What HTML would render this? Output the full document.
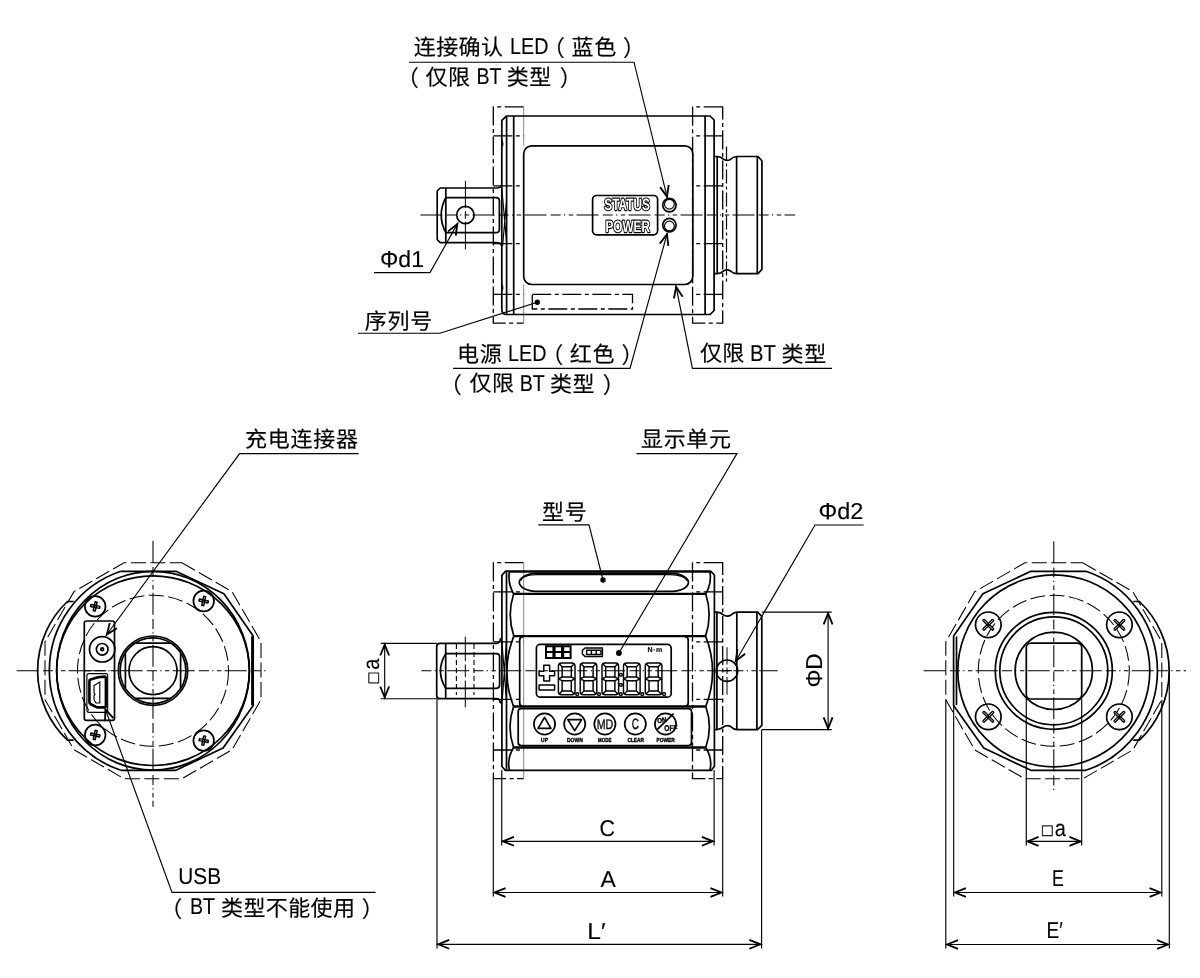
<!DOCTYPE html>
<html lang="zh-CN">
<head>
<meta charset="utf-8">
<title>外形尺寸图</title>
<style>
html,body{margin:0;padding:0;background:#fff}
body{width:1200px;height:978px;overflow:hidden}
svg{display:block;will-change:transform;text-rendering:geometricPrecision}
.m{fill:none;stroke:#000;stroke-width:1.7;stroke-linejoin:round;stroke-linecap:butt}
.t{fill:none;stroke:#000;stroke-width:1.15}
.a{fill:none;stroke:#000;stroke-width:1.85;stroke-linejoin:miter}
.k{fill:none;stroke:#000;stroke-width:2.3;stroke-linejoin:round}
.f{fill:#000;stroke:none}
.k2{fill:none;stroke:#000;stroke-width:2.6;stroke-linejoin:round}
.cl{fill:none;stroke:#000;stroke-width:1.05;stroke-dasharray:22 4.2 10 3.3 1.3 3.4 4.5 3.3}
.cs{fill:none;stroke:#000;stroke-width:1.0}
.ph{fill:none;stroke:#000;stroke-width:1.3;stroke-dasharray:19 3.5 4 3.5}
.pl{fill:none;stroke:#888;stroke-width:1.0}
.ph2{fill:none;stroke:#000;stroke-width:1.2;stroke-dasharray:14 3 3 3}
.hd{fill:none;stroke:#000;stroke-width:1.1;stroke-dasharray:5 3}
.dd{fill:none;stroke:#000;stroke-width:1.05;stroke-dasharray:15 4.5}
.s7{fill:none;stroke:#000;stroke-width:1.45;stroke-linejoin:round}
.s8{fill:none;stroke:#000;stroke-width:2.0}
.xk{fill:none;stroke:#000;stroke-width:3.3;stroke-linecap:round}
.xw{fill:none;stroke:#fff;stroke-width:0.8;stroke-linecap:round}
text{font-family:"Liberation Sans","Noto Sans CJK SC",sans-serif;fill:#000}
.tx{font-family:"Liberation Sans","Noto Sans CJK SC",sans-serif;font-size:22px;font-weight:400;stroke:#000;stroke-width:0.16px}
.la{font-family:"Liberation Sans","Noto Sans CJK SC",sans-serif;font-size:23px;font-weight:400;stroke:#000;stroke-width:0.12px}
.sq{font-family:"Liberation Sans","Noto Sans CJK SC",sans-serif;font-size:17.6px;stroke:#000;stroke-width:0.3px}
.ol{font-family:"Liberation Sans",sans-serif;font-weight:700;font-size:16.4px;fill:#fff;stroke:#000;stroke-width:2.3;stroke-linejoin:round;paint-order:stroke}
.btn{font-family:"Liberation Sans",sans-serif;font-size:14px;fill:#000;stroke:#000;stroke-width:0.3px}
.tiny{font-family:"Liberation Sans",sans-serif;font-weight:700;fill:#000;stroke:#000;stroke-width:0.35px}
</style>
</head>
<body>
<svg width="1200" height="978" viewBox="0 0 1200 978">
<rect x="0" y="0" width="1200" height="978" fill="#fff"/>
<g id="top-view">
<path class="ph" d="M523.7,106.9 H493.3 V323.1 H523.7" />
<line class="pl" x1="523.70" y1="106.90" x2="523.70" y2="145.80"/>
<line class="pl" x1="523.70" y1="284.50" x2="523.70" y2="323.10"/>
<path class="ph" d="M722.7,106.9 H692.6 V323.1 H722.7 Z" />
<line class="ph" x1="493.30" y1="135.80" x2="523.70" y2="135.80"/>
<line class="ph" x1="493.30" y1="185.90" x2="523.70" y2="185.90"/>
<line class="ph" x1="493.30" y1="243.70" x2="523.70" y2="243.70"/>
<line class="ph" x1="493.30" y1="294.40" x2="523.70" y2="294.40"/>
<line class="ph" x1="722.70" y1="135.80" x2="692.60" y2="135.80"/>
<line class="ph" x1="722.70" y1="185.90" x2="692.60" y2="185.90"/>
<line class="ph" x1="722.70" y1="243.70" x2="692.60" y2="243.70"/>
<line class="ph" x1="722.70" y1="294.40" x2="692.60" y2="294.40"/>
<line class="cl" x1="420.5" y1="215.0" x2="795.2" y2="215.0"/>
<path class="m" d="M506.6,116 H710.1 L714.1,120 V310.5 L710.1,314.5 H506.6 Q501.8,314.5 501.8,309.5 V120.3 Z" />
<line class="m" x1="506.60" y1="116.00" x2="506.60" y2="314.50"/>
<line class="m" x1="513.70" y1="116.00" x2="513.70" y2="314.50"/>
<line class="m" x1="705.10" y1="116.00" x2="705.10" y2="314.50"/>
<path class="f" d="M502.2,139 Q504.6,143.5 502.2,148 Z" />
<path class="f" d="M502.2,283 Q504.6,287.5 502.2,292 Z" />
<rect class="m" x="523.70" y="145.80" width="169.10" height="138.70" rx="8" ry="8" />
<rect class="m" x="592.60" y="195.50" width="65.00" height="39.30" rx="4" ry="4" />
<text class="ol" x="604.3" y="210.4" textLength="45.6" lengthAdjust="spacingAndGlyphs">STATUS</text>
<text class="ol" x="605.4" y="231.8" textLength="44.5" lengthAdjust="spacingAndGlyphs">POWER</text>
<circle class="m" cx="669.40" cy="205.10" r="6.70" />
<circle class="t" cx="669.40" cy="204.20" r="4.90" />
<circle class="m" cx="669.40" cy="225.10" r="6.70" />
<circle class="t" cx="669.40" cy="226.00" r="4.90" />
<path class="ph" d="M532.3,294.4 H632.5 V309 H532.3 Z" />
<path class="m" d="M501.8,184.6 Q501.2,188 496.5,188 H440.3 L437.2,191 V239.6 L440.3,242.6 H496.5 Q501.2,242.6 501.8,246" />
<line class="m" x1="445.80" y1="188.00" x2="445.80" y2="242.60"/>
<path class="m" d="M445.8,197.6 H496 Q499.4,197.6 499.4,201 V229.2 Q499.4,232.6 496,232.6 H445.8" />
<path class="m" d="M445.8,197.6 Q436.6,215 445.8,232.6" />
<path class="t" d="M501.8,188 L506.6,242.6 M506.6,200 L502.6,246" />
<circle class="m" cx="465.40" cy="215.00" r="8.70" />
<path class="cs" d="M465.4,181 V208.2 M465.4,211.2 V218.8 M465.4,221.8 V249.4" />
<path class="m" d="M714.1,156.5 H717.2 Q721,156.8 723,158.8 Q726.5,161.6 730.5,159.4 Q733,156.8 736.6,156.5 H758 L761.9,160.8 V269.4 L758,273.7 H736.6 Q733,273.4 730.5,271 Q726.5,268.6 723,271.4 Q721,273.4 717.2,273.7 H714.1" />
<line class="m" x1="717.20" y1="156.50" x2="717.20" y2="273.70"/>
<line class="m" x1="736.60" y1="156.50" x2="736.60" y2="273.70"/>
<line class="m" x1="757.30" y1="157.00" x2="757.30" y2="273.20"/>
<line class="ph2" x1="726.50" y1="146.50" x2="726.50" y2="284.00"/>
</g>
<path class="t" d="M409.00,62.20 L634.00,62.20 L667.30,197.90" />
<path class="a" d="M660.07,187.10 L666.99,196.64 L668.71,184.98" />
<path class="t" d="M453.00,368.30 L630.00,368.30 L667.30,233.00" />
<path class="a" d="M668.34,245.96 L666.95,234.25 L659.77,243.59" />
<path class="t" d="M832.00,368.30 L692.40,368.30 L675.90,285.60" />
<path class="a" d="M682.65,296.71 L676.15,286.87 L673.93,298.45" />
<path class="t" d="M374.00,272.60 L430.00,272.60 L457.90,222.90" />
<path class="a" d="M455.80,235.73 L457.26,224.03 L448.04,231.38" />
<path class="t" d="M358.00,333.20 L440.00,333.20 L537.30,302.30" />
<circle class="f" cx="537.30" cy="302.30" r="2.70" />
<g id="front-view">
<path class="ph" d="M523.7,562.7 H493.4 V778.7 H523.7" />
<line class="pl" x1="523.70" y1="562.70" x2="523.70" y2="778.70"/>
<path class="ph" d="M722.7,562.7 H692.5 V778.7 H722.7 Z" />
<line class="ph" x1="493.40" y1="591.80" x2="523.70" y2="591.80"/>
<line class="ph" x1="493.40" y1="641.80" x2="523.70" y2="641.80"/>
<line class="ph" x1="493.40" y1="699.40" x2="523.70" y2="699.40"/>
<line class="ph" x1="493.40" y1="750.00" x2="523.70" y2="750.00"/>
<line class="ph" x1="722.70" y1="591.80" x2="692.50" y2="591.80"/>
<line class="ph" x1="722.70" y1="641.80" x2="692.50" y2="641.80"/>
<line class="ph" x1="722.70" y1="699.40" x2="692.50" y2="699.40"/>
<line class="ph" x1="722.70" y1="750.00" x2="692.50" y2="750.00"/>
<line class="cl" x1="421.3" y1="670.7" x2="777.7" y2="670.7" stroke-dashoffset="26.1"/>
<path class="m" d="M505.4,571.2 H710.6 L714.4,575 V766.2 L711.2,770.4 H505.4 L501.9,766.5 V575.4 Z" />
<line class="m" x1="506.50" y1="571.20" x2="506.50" y2="770.40"/>
<path class="m" d="M509.50,571.2 Q507.40,583 513.60,593.9" />
<path class="m" d="M513.60,593.9 Q506.80,615 513.80,636.1" />
<path class="m" d="M513.80,636.1 Q500.00,671 513.60,706.5" />
<path class="m" d="M513.60,706.5 Q506.40,727 513.60,747.5" />
<path class="m" d="M513.60,747.5 Q506.60,759 509.50,770.4" />
<path class="m" d="M709.90,571.2 Q712.00,583 705.80,593.9" />
<path class="m" d="M705.80,593.9 Q712.60,615 705.60,636.1" />
<path class="m" d="M705.60,636.1 Q719.40,671 705.80,706.5" />
<path class="m" d="M705.80,706.5 Q713.00,727 705.80,747.5" />
<path class="m" d="M705.80,747.5 Q712.80,759 709.90,770.4" />
<path class="t" d="M501.9,641 L506.5,701 M506.5,641 L502.2,701" />
<line class="k" x1="513.60" y1="593.90" x2="705.80" y2="593.90"/>
<line class="k" x1="513.80" y1="636.10" x2="705.80" y2="636.10"/>
<line class="k" x1="513.60" y1="706.50" x2="705.80" y2="706.50"/>
<line class="k" x1="513.60" y1="747.50" x2="705.80" y2="747.50"/>
<line class="m" x1="509.50" y1="572.00" x2="709.90" y2="572.00"/>
<path class="m" d="M536,573.4 H672 C683,574 688.4,578.5 688.4,582.3 C688.4,586.5 683,591 672,591.3 H536 C525,591 519.3,586.5 519.3,582.3 C519.3,578.5 525,574 536,573.4 Z" />
<path class="t" d="M520.6,581 C522,576.5 528,574.6 538,574.6 H670 C680,574.8 685.5,577 687.2,581" />
<path class="m" d="M519.7,703 V640 Q519.7,637 523,636.6 M688.2,703 V640 Q688.2,637 685,636.6 M519.7,703 Q519.7,706 523,706.2 M688.2,703 Q688.2,706 685,706.2" />
<rect class="m" x="536.40" y="644.40" width="134.80" height="52.70" rx="3.7" ry="3.7" />
<path class="s7" d="M561.40,663.00 H572.00 Q575.00,663.00 575.00,666.00 V691.70 Q575.00,694.70 572.00,694.70 H561.40 Q558.40,694.70 558.40,691.70 V666.00 Q558.40,663.00 561.40,663.00 Z" />
<path class="s7" d="M562.10,666.70 H571.30 V677.00 H562.10 Z" />
<path class="s7" d="M562.10,680.70 H571.30 V691.00 H562.10 Z" />
<path class="s7" d="M559.20,663.80 L562.10,666.70 M574.20,663.80 L571.30,666.70 M559.20,693.90 L562.10,691.00 M574.20,693.90 L571.30,691.00 M558.40,678.85 L562.10,677.00 M558.40,678.85 L562.10,680.70 M575.00,678.85 L571.30,677.00 M575.00,678.85 L571.30,680.70" />
<circle class="s7" cx="577.20" cy="694.20" r="1.40" />
<path class="s7" d="M583.20,663.00 H593.80 Q596.80,663.00 596.80,666.00 V691.70 Q596.80,694.70 593.80,694.70 H583.20 Q580.20,694.70 580.20,691.70 V666.00 Q580.20,663.00 583.20,663.00 Z" />
<path class="s7" d="M583.90,666.70 H593.10 V677.00 H583.90 Z" />
<path class="s7" d="M583.90,680.70 H593.10 V691.00 H583.90 Z" />
<path class="s7" d="M581.00,663.80 L583.90,666.70 M596.00,663.80 L593.10,666.70 M581.00,693.90 L583.90,691.00 M596.00,693.90 L593.10,691.00 M580.20,678.85 L583.90,677.00 M580.20,678.85 L583.90,680.70 M596.80,678.85 L593.10,677.00 M596.80,678.85 L593.10,680.70" />
<circle class="s7" cx="599.00" cy="694.20" r="1.40" />
<path class="s7" d="M605.00,663.00 H615.60 Q618.60,663.00 618.60,666.00 V691.70 Q618.60,694.70 615.60,694.70 H605.00 Q602.00,694.70 602.00,691.70 V666.00 Q602.00,663.00 605.00,663.00 Z" />
<path class="s7" d="M605.70,666.70 H614.90 V677.00 H605.70 Z" />
<path class="s7" d="M605.70,680.70 H614.90 V691.00 H605.70 Z" />
<path class="s7" d="M602.80,663.80 L605.70,666.70 M617.80,663.80 L614.90,666.70 M602.80,693.90 L605.70,691.00 M617.80,693.90 L614.90,691.00 M602.00,678.85 L605.70,677.00 M602.00,678.85 L605.70,680.70 M618.60,678.85 L614.90,677.00 M618.60,678.85 L614.90,680.70" />
<circle class="s7" cx="620.80" cy="694.20" r="1.40" />
<path class="s7" d="M626.50,663.00 H637.10 Q640.10,663.00 640.10,666.00 V691.70 Q640.10,694.70 637.10,694.70 H626.50 Q623.50,694.70 623.50,691.70 V666.00 Q623.50,663.00 626.50,663.00 Z" />
<path class="s7" d="M627.20,666.70 H636.40 V677.00 H627.20 Z" />
<path class="s7" d="M627.20,680.70 H636.40 V691.00 H627.20 Z" />
<path class="s7" d="M624.30,663.80 L627.20,666.70 M639.30,663.80 L636.40,666.70 M624.30,693.90 L627.20,691.00 M639.30,693.90 L636.40,691.00 M623.50,678.85 L627.20,677.00 M623.50,678.85 L627.20,680.70 M640.10,678.85 L636.40,677.00 M640.10,678.85 L636.40,680.70" />
<circle class="s7" cx="642.30" cy="694.20" r="1.40" />
<path class="s7" d="M648.30,663.00 H658.90 Q661.90,663.00 661.90,666.00 V691.70 Q661.90,694.70 658.90,694.70 H648.30 Q645.30,694.70 645.30,691.70 V666.00 Q645.30,663.00 648.30,663.00 Z" />
<path class="s7" d="M649.00,666.70 H658.20 V677.00 H649.00 Z" />
<path class="s7" d="M649.00,680.70 H658.20 V691.00 H649.00 Z" />
<path class="s7" d="M646.10,663.80 L649.00,666.70 M661.10,663.80 L658.20,666.70 M646.10,693.90 L649.00,691.00 M661.10,693.90 L658.20,691.00 M645.30,678.85 L649.00,677.00 M645.30,678.85 L649.00,680.70 M661.90,678.85 L658.20,677.00 M661.90,678.85 L658.20,680.70" />
<circle class="s7" cx="664.10" cy="694.20" r="1.40" />
<circle class="s7" cx="620.90" cy="674.80" r="1.40" />
<circle class="s7" cx="620.90" cy="684.90" r="1.40" />
<path class="s7" d="M543.8,665.3 H549.6 V671.2 H554.6 V675.8 H549.6 V680.9 H543.8 V675.8 H539.1 V671.2 H543.8 Z" />
<path class="s7" d="M539.1,684.9 H554.6 V690 H539.1 Z" />
<path class="s8" d="M546.00,646.2 h7.4 v11.8 h-7.4 Z M546.00,652.1 h7.4" />
<path class="s8" d="M554.60,646.2 h7.4 v11.8 h-7.4 Z M554.60,652.1 h7.4" />
<path class="s8" d="M563.20,646.2 h7.4 v11.8 h-7.4 Z M563.20,652.1 h7.4" />
<path class="s7" d="M585,648 H602.4 V656.4 H585 L582.4,654 V650.4 Z" />
<path class="s7" d="M586.6,650.2 H601 V654.4 H586.6 Z M591.4,650.2 V654.4 M596.2,650.2 V654.4" />
<text class="tiny" x="647.6" y="652.4" style="font-size:7px;letter-spacing:0.5px;stroke-width:0.15px">N·m</text>
<rect class="m" x="518.20" y="708.60" width="173.30" height="37.00" rx="3" ry="3" />
<circle class="m" cx="544.50" cy="724.00" r="10.60" />
<circle class="m" cx="574.70" cy="724.00" r="10.60" />
<circle class="m" cx="604.90" cy="724.00" r="10.60" />
<circle class="m" cx="635.30" cy="724.00" r="10.60" />
<circle class="m" cx="665.50" cy="724.00" r="10.60" />
<path class="m" d="M544.5,717.4 L550.9,728.4 H538.1 Z" />
<path class="m" d="M574.7,730.6 L581.6,719.6 H567.8 Z" />
<text class="btn" x="604.9" y="729.1" text-anchor="middle" textLength="16.5" lengthAdjust="spacingAndGlyphs">MD</text>
<text class="btn" x="635.3" y="729.3" text-anchor="middle" style="font-size:15px" textLength="7.2" lengthAdjust="spacingAndGlyphs">C</text>
<line class="m" x1="657.10" y1="729.60" x2="673.60" y2="713.60"/>
<text class="tiny" x="657.0" y="722.6" style="font-size:7px" textLength="9.5" lengthAdjust="spacingAndGlyphs" transform="rotate(-8 661 720)">ON</text>
<text class="tiny" x="664.3" y="730.6" style="font-size:8.5px" textLength="13.2" lengthAdjust="spacingAndGlyphs">OFF</text>
<text class="tiny" x="544.5" y="741.6" text-anchor="middle" style="font-size:5.8px" textLength="6.8" lengthAdjust="spacingAndGlyphs">UP</text>
<text class="tiny" x="574.9" y="741.6" text-anchor="middle" style="font-size:5.8px" textLength="15.8" lengthAdjust="spacingAndGlyphs">DOWN</text>
<text class="tiny" x="604.8" y="741.6" text-anchor="middle" style="font-size:5.8px" textLength="13.4" lengthAdjust="spacingAndGlyphs">MODE</text>
<text class="tiny" x="635.7" y="741.6" text-anchor="middle" style="font-size:5.8px" textLength="16.5" lengthAdjust="spacingAndGlyphs">CLEAR</text>
<text class="tiny" x="665.6" y="741.6" text-anchor="middle" style="font-size:5.8px" textLength="18.4" lengthAdjust="spacingAndGlyphs">POWER</text>
<path class="m" d="M501.9,638.8 H500.3 Q500,643.3 496.5,643.3 H440 Q436.7,643.3 436.7,646.6 V695.4 Q436.7,698.7 440,698.7 H496.5 Q500,698.7 500.3,702.6 H501.9" />
<line class="m" x1="445.70" y1="643.30" x2="445.70" y2="698.70"/>
<path class="m" d="M445.7,653.6 H496.4 Q499.6,653.6 499.6,656.8 V685.1 Q499.6,688.3 496.4,688.3 H445.7" />
<path class="m" d="M445.7,653.6 Q435.2,671 445.7,688.3" />
<line class="hd" x1="456.40" y1="644.00" x2="456.40" y2="695.00"/>
<line class="hd" x1="474.00" y1="644.00" x2="474.00" y2="695.00"/>
<path class="cs" d="M465.3,636.7 V661 M465.3,664.5 V677 M465.3,680.5 V707.3" />
<path class="m" d="M714.4,612.1 H716.9 Q720.8,612.4 723,614.6 Q727,617.6 731,615 Q733.4,612.4 736.8,612.1 H757.6 L761.8,616.4 V725.3 L757.6,729.6 H736.8 Q733.4,729.3 731,726.8 Q727,724.2 723,727.2 Q720.8,729.3 716.9,729.6 H714.4" />
<line class="m" x1="716.90" y1="612.10" x2="716.90" y2="729.60"/>
<line class="m" x1="736.80" y1="612.10" x2="736.80" y2="729.60"/>
<line class="m" x1="756.90" y1="612.60" x2="756.90" y2="729.10"/>
<circle class="m" cx="727" cy="670.7" r="10.7" fill="#fff"/>
<line class="t" x1="722.50" y1="670.70" x2="732.00" y2="670.70"/>
<path class="cs" d="M727,647.3 V664.5 M727,667.5 V674 M727,677 V694.7" />
</g>
<line class="t" x1="380.70" y1="643.30" x2="436.70" y2="643.30"/>
<line class="t" x1="380.70" y1="698.70" x2="436.70" y2="698.70"/>
<line class="t" x1="384.70" y1="643.30" x2="384.70" y2="698.70"/>
<path class="a" d="M389.15,655.52 L384.70,644.60 L380.25,655.52" />
<path class="a" d="M380.25,686.48 L384.70,697.40 L389.15,686.48" />
<line class="t" x1="762.00" y1="612.10" x2="831.70" y2="612.10"/>
<line class="t" x1="762.00" y1="729.60" x2="831.70" y2="729.60"/>
<line class="t" x1="828.10" y1="612.10" x2="828.10" y2="729.60"/>
<path class="a" d="M832.55,624.32 L828.10,613.40 L823.65,624.32" />
<path class="a" d="M823.65,717.38 L828.10,728.30 L832.55,717.38" />
<line class="t" x1="501.75" y1="770.00" x2="501.75" y2="845.50"/>
<line class="t" x1="714.10" y1="770.00" x2="714.10" y2="845.50"/>
<line class="t" x1="501.75" y1="841.30" x2="714.10" y2="841.30"/>
<path class="a" d="M513.97,836.85 L503.05,841.30 L513.97,845.75" />
<path class="a" d="M701.88,845.75 L712.80,841.30 L701.88,836.85" />
<line class="t" x1="493.30" y1="778.70" x2="493.30" y2="896.50"/>
<line class="t" x1="722.70" y1="778.70" x2="722.70" y2="896.50"/>
<line class="t" x1="493.30" y1="892.50" x2="722.70" y2="892.50"/>
<path class="a" d="M505.52,888.05 L494.60,892.50 L505.52,896.95" />
<path class="a" d="M710.48,896.95 L721.40,892.50 L710.48,888.05" />
<line class="t" x1="437.00" y1="698.70" x2="437.00" y2="948.50"/>
<line class="t" x1="761.60" y1="729.60" x2="761.60" y2="948.50"/>
<line class="t" x1="437.00" y1="944.30" x2="761.60" y2="944.30"/>
<path class="a" d="M449.22,939.85 L438.30,944.30 L449.22,948.75" />
<path class="a" d="M749.38,948.75 L760.30,944.30 L749.38,939.85" />
<path class="t" d="M636.40,453.60 L737.00,453.60 L618.90,653.00" />
<circle class="f" cx="618.90" cy="653.00" r="2.90" />
<path class="t" d="M538.40,524.80 L589.00,524.80 L603.00,580.00" />
<circle class="f" cx="603.00" cy="580.00" r="2.70" />
<path class="t" d="M863.70,525.00 L815.00,525.00 L735.20,662.00" />
<path class="a" d="M737.51,649.21 L735.85,660.88 L745.19,653.68" />
<g id="left-view">
<path class="dd" d="M181.94,562.70 L232.06,591.64 L261.00,641.76 L261.00,699.64 L232.06,749.76 L181.94,778.70 L124.06,778.70 L73.94,749.76 L45.00,699.64 L45.00,641.76 L73.94,591.64 L124.06,562.70 Z" />
<path class="m" d="M120.80,571.30 L175.90,571.30 L223.90,593.70 L253.20,635.90 L253.20,705.60 L223.10,748.00 L175.90,770.30 L120.80,770.30" />
<path class="m" d="M120.80,571.3 A105,105 0 0 0 120.80,770.3" />
<path class="m" d="M73.60,601.5 H67.40 A95.5,95.5 0 0 0 67.40,740.1 H73.60" />
<ellipse class="m" cx="153.0" cy="670.7" rx="96.4" ry="99.4"/>
<ellipse class="m" cx="153.0" cy="670.7" rx="96.3" ry="94.8"/>
<line class="k2" x1="252.40" y1="636.20" x2="252.40" y2="705.20"/>
<circle class="dd" cx="153.00" cy="670.70" r="75.50" />
<line class="cl" x1="153.00" y1="540.70" x2="153.00" y2="806.70"/>
<line class="cl" x1="16.70" y1="670.70" x2="268.00" y2="670.70"/>
<circle class="m" cx="95.20" cy="606.40" r="10.30" fill="#fff"/>
<path class="s7" d="M94.20,601.80 h2.0 v3.5999999999999996 h3.5999999999999996 v2.0 h-3.5999999999999996 v3.5999999999999996 h-2.0 v-3.5999999999999996 h-3.5999999999999996 v-2.0 h3.5999999999999996 Z" transform="rotate(12 95.2 606.4)"/>
<circle class="s7" cx="95.20" cy="606.40" r="1.10" />
<circle class="m" cx="203.70" cy="601.00" r="10.30" fill="#fff"/>
<path class="s7" d="M202.70,596.40 h2.0 v3.5999999999999996 h3.5999999999999996 v2.0 h-3.5999999999999996 v3.5999999999999996 h-2.0 v-3.5999999999999996 h-3.5999999999999996 v-2.0 h3.5999999999999996 Z" transform="rotate(12 203.7 601.0)"/>
<circle class="s7" cx="203.70" cy="601.00" r="1.10" />
<circle class="m" cx="95.20" cy="735.00" r="10.30" fill="#fff"/>
<path class="s7" d="M94.20,730.40 h2.0 v3.5999999999999996 h3.5999999999999996 v2.0 h-3.5999999999999996 v3.5999999999999996 h-2.0 v-3.5999999999999996 h-3.5999999999999996 v-2.0 h3.5999999999999996 Z" transform="rotate(12 95.2 735.0)"/>
<circle class="s7" cx="95.20" cy="735.00" r="1.10" />
<circle class="m" cx="203.70" cy="740.60" r="10.30" fill="#fff"/>
<path class="s7" d="M202.70,736.00 h2.0 v3.5999999999999996 h3.5999999999999996 v2.0 h-3.5999999999999996 v3.5999999999999996 h-2.0 v-3.5999999999999996 h-3.5999999999999996 v-2.0 h3.5999999999999996 Z" transform="rotate(12 203.7 740.6)"/>
<circle class="s7" cx="203.70" cy="740.60" r="1.10" />
<rect class="m" x="84.3" y="621" width="30.2" height="99.4" rx="2.2" fill="#fff"/>
<line class="cl" x1="84.30" y1="670.70" x2="114.50" y2="670.70"/>
<circle class="m" cx="102.20" cy="649.30" r="12.70" />
<circle class="m" cx="102.20" cy="649.30" r="5.80" />
<circle class="m" cx="102.20" cy="649.30" r="1.40" />
<rect class="t" x="86.90" y="673.60" width="20.80" height="38.70" rx="2" ry="2" />
<path class="k2" d="M90.6,679.6 L98,677.2 L104.4,676.6 Q105.9,676.8 105.9,678.6 V705.4 Q105.9,707.3 104.2,707.4 L97,707.4 L90.4,704 Q89.4,703.4 89.4,702 V681.2 Q89.4,680 90.6,679.6 Z" />
<path class="t" d="M94,685.6 L99.8,682 V703 L96,703 L94,699.6 V696 L95,694.4 L94,692.8 Z" />
<circle class="m" cx="153.00" cy="670.70" r="34.70" />
<circle class="m" cx="153.00" cy="670.70" r="32.90" />
<circle class="m" cx="153.00" cy="670.70" r="24.00" />
<path class="m" d="M135.09,643.10 H170.91 M135.09,698.30 H170.91 M125.40,652.79 V688.61 M180.60,652.79 V688.61" />
</g>
<path class="t" d="M358.60,453.60 L239.60,453.60 L106.10,635.50" />
<path class="a" d="M109.74,623.02 L106.87,634.45 L116.91,628.28" />
<path class="t" d="M375.60,892.40 L172.00,892.40 L105.00,708.20" />
<path class="a" d="M113.35,718.16 L105.44,709.42 L105.00,721.20" />
<g id="right-view">
<path class="dd" d="M1082.74,562.80 L1132.86,591.74 L1161.80,641.86 L1161.80,699.74 L1132.86,749.86 L1082.74,778.80 L1024.86,778.80 L974.74,749.86 L945.80,699.74 L945.80,641.86 L974.74,591.74 L1024.86,562.80 Z" />
<path class="m" d="M1086.00,571.30 L1030.90,571.30 L982.90,593.70 L953.60,635.90 L953.60,705.60 L983.70,748.00 L1030.90,770.30 L1086.00,770.30" />
<line class="m" x1="956.50" y1="636.50" x2="956.50" y2="705.00"/>
<path class="m" d="M1086.00,571.3 A105,105 0 0 1 1086.00,770.3" />
<path class="m" d="M1133.20,601.5 H1139.40 A95.5,95.5 0 0 1 1139.40,740.1 H1133.20" />
<circle class="m" cx="1053.80" cy="670.80" r="96.00" />
<circle class="dd" cx="1053.80" cy="670.80" r="75.50" />
<line class="cl" x1="1053.80" y1="541.20" x2="1053.80" y2="793.00"/>
<line class="cl" x1="923.70" y1="670.80" x2="1186.00" y2="670.80"/>
<circle class="m" cx="988.30" cy="624.80" r="12.80" fill="#fff"/>
<path class="xk" d="M983.92,620.42 L992.68,629.18 M983.92,629.18 L992.68,620.42 " />
<path class="xw" d="M983.92,620.42 L992.68,629.18 M983.92,629.18 L992.68,620.42 " />
<circle class="f" cx="988.30" cy="624.80" r="1.60" />
<circle class="m" cx="1119.40" cy="624.80" r="12.80" fill="#fff"/>
<path class="xk" d="M1115.02,620.42 L1123.78,629.18 M1115.02,629.18 L1123.78,620.42 " />
<path class="xw" d="M1115.02,620.42 L1123.78,629.18 M1115.02,629.18 L1123.78,620.42 " />
<circle class="f" cx="1119.40" cy="624.80" r="1.60" />
<circle class="m" cx="988.30" cy="716.80" r="12.80" fill="#fff"/>
<path class="xk" d="M983.92,712.42 L992.68,721.18 M983.92,721.18 L992.68,712.42 " />
<path class="xw" d="M983.92,712.42 L992.68,721.18 M983.92,721.18 L992.68,712.42 " />
<circle class="f" cx="988.30" cy="716.80" r="1.60" />
<circle class="m" cx="1119.40" cy="716.80" r="12.80" fill="#fff"/>
<path class="xk" d="M1115.02,712.42 L1123.78,721.18 M1115.02,721.18 L1123.78,712.42 " />
<path class="xw" d="M1115.02,712.42 L1123.78,721.18 M1115.02,721.18 L1123.78,712.42 " />
<circle class="f" cx="1119.40" cy="716.80" r="1.60" />
<circle class="m" cx="1053.80" cy="670.80" r="58.50" />
<circle class="m" cx="1053.80" cy="670.80" r="54.00" />
<circle class="m" cx="1053.80" cy="670.80" r="38.70" />
<rect class="m" x="1026.30" y="643.10" width="55.40" height="55.90" rx="4.5" ry="4.5" />
</g>
<line class="t" x1="1026.30" y1="699.00" x2="1026.30" y2="845.50"/>
<line class="t" x1="1081.70" y1="699.00" x2="1081.70" y2="845.50"/>
<line class="t" x1="1026.30" y1="841.40" x2="1081.70" y2="841.40"/>
<path class="a" d="M1038.52,836.95 L1027.60,841.40 L1038.52,845.85" />
<path class="a" d="M1069.48,845.85 L1080.40,841.40 L1069.48,836.95" />
<line class="t" x1="953.70" y1="705.00" x2="953.70" y2="896.50"/>
<line class="t" x1="1161.80" y1="700.00" x2="1161.80" y2="896.50"/>
<line class="t" x1="953.70" y1="892.50" x2="1161.80" y2="892.50"/>
<path class="a" d="M965.92,888.05 L955.00,892.50 L965.92,896.95" />
<path class="a" d="M1149.58,896.95 L1160.50,892.50 L1149.58,888.05" />
<line class="t" x1="945.80" y1="699.70" x2="945.80" y2="948.50"/>
<line class="t" x1="1169.30" y1="671.00" x2="1169.30" y2="948.50"/>
<line class="t" x1="945.80" y1="944.50" x2="1169.30" y2="944.50"/>
<path class="a" d="M958.02,940.05 L947.10,944.50 L958.02,948.95" />
<path class="a" d="M1157.08,948.95 L1168.00,944.50 L1157.08,940.05" />
<g id="labels">
<text class="tx" x="413.82" y="55.08" style="letter-spacing:0.40px">连接确认</text>
<text class="la" x="510.1" y="54.0" textLength="38.39" lengthAdjust="spacingAndGlyphs">LED</text>
<text class="tx" x="542.75" y="56.38">（</text>
<text class="tx" x="571.42" y="55.08" style="letter-spacing:0.80px">蓝色</text>
<text class="tx" x="622.88" y="56.38">）</text>
<text class="tx" x="396.7" y="86.2">（</text>
<text class="tx" x="425.5" y="84.58" style="letter-spacing:0.40px">仅限</text>
<text class="la" x="476.5" y="83.75" textLength="25.05" lengthAdjust="spacingAndGlyphs">BT</text>
<text class="tx" x="506.75" y="85.08" style="letter-spacing:0.40px">类型</text>
<text class="tx" x="559.75" y="86.2">）</text>
<text class="la" x="380.0" y="267.0" textLength="43.94" lengthAdjust="spacingAndGlyphs">Φd1</text>
<text class="tx" x="364.8" y="328.75" style="letter-spacing:0.70px">序列号</text>
<text class="tx" x="457.0" y="361.55" style="letter-spacing:0.80px">电源</text>
<text class="la" x="508.0" y="361.0" textLength="38.39" lengthAdjust="spacingAndGlyphs">LED</text>
<text class="tx" x="541.2" y="362.85">（</text>
<text class="tx" x="569.75" y="361.55" style="letter-spacing:0.80px">红色</text>
<text class="tx" x="621.62" y="362.85">）</text>
<text class="tx" x="439.8" y="392.7">（</text>
<text class="tx" x="469.5" y="391.05" style="letter-spacing:0.40px">仅限</text>
<text class="la" x="519.75" y="390.6" textLength="25.05" lengthAdjust="spacingAndGlyphs">BT</text>
<text class="tx" x="550.0" y="391.55" style="letter-spacing:0.50px">类型</text>
<text class="tx" x="602.65" y="392.7">）</text>
<text class="tx" x="699.88" y="361.12" style="letter-spacing:0.40px">仅限</text>
<text class="la" x="749.92" y="360.6" textLength="25.82" lengthAdjust="spacingAndGlyphs">BT</text>
<text class="tx" x="781.55" y="361.62" style="letter-spacing:0.80px">类型</text>
<text class="tx" x="245.0" y="447.45" style="letter-spacing:0.75px">充电连接器</text>
<text class="tx" x="641.0" y="447.45" style="letter-spacing:0.67px">显示单元</text>
<text class="tx" x="542.0" y="520.0" style="letter-spacing:0.80px">型号</text>
<text class="la" x="818.5" y="518.7" textLength="44.78" lengthAdjust="spacingAndGlyphs">Φd2</text>
<text class="la" x="178.3" y="884.4" textLength="42.79" lengthAdjust="spacingAndGlyphs">USB</text>
<text class="tx" x="160.2" y="916.75">（</text>
<text class="la" x="190.0" y="914.4" textLength="25.08" lengthAdjust="spacingAndGlyphs">BT</text>
<text class="tx" x="221.0" y="916.25" style="letter-spacing:0.40px">类型不能使用</text>
<text class="tx" x="361.75" y="916.75">）</text>
<text class="la" x="599.5" y="835.7" textLength="15.52" lengthAdjust="spacingAndGlyphs">C</text>
<text class="la" x="600.5" y="887.0" textLength="15.34" lengthAdjust="spacingAndGlyphs">A</text>
<text class="la" x="587.25" y="938.75" textLength="18.27" lengthAdjust="spacingAndGlyphs">L′</text>
<text class="la" x="1052.0" y="886.25" textLength="11.80" lengthAdjust="spacingAndGlyphs">E</text>
<text class="la" x="1046.5" y="938.0" textLength="16.26" lengthAdjust="spacingAndGlyphs">E′</text>
<text class="sq" x="1042.0" y="836.0">□</text>
<text class="la" x="1054.85" y="836.0" textLength="11.10" lengthAdjust="spacingAndGlyphs">a</text>
<text class="la" x="-0.7" y="0.0" textLength="34.13" lengthAdjust="spacingAndGlyphs" transform="translate(821.9,686.9) rotate(-90)">ΦD</text>
<text class="sq" x="0.0" y="0.0" transform="translate(378.8,683.2) rotate(-90)">□</text>
<text class="la" x="-0.9" y="0.3" textLength="11.09" lengthAdjust="spacingAndGlyphs" transform="translate(378.6,668.9) rotate(-90)">a</text>
</g>
</svg>
</body>
</html>
